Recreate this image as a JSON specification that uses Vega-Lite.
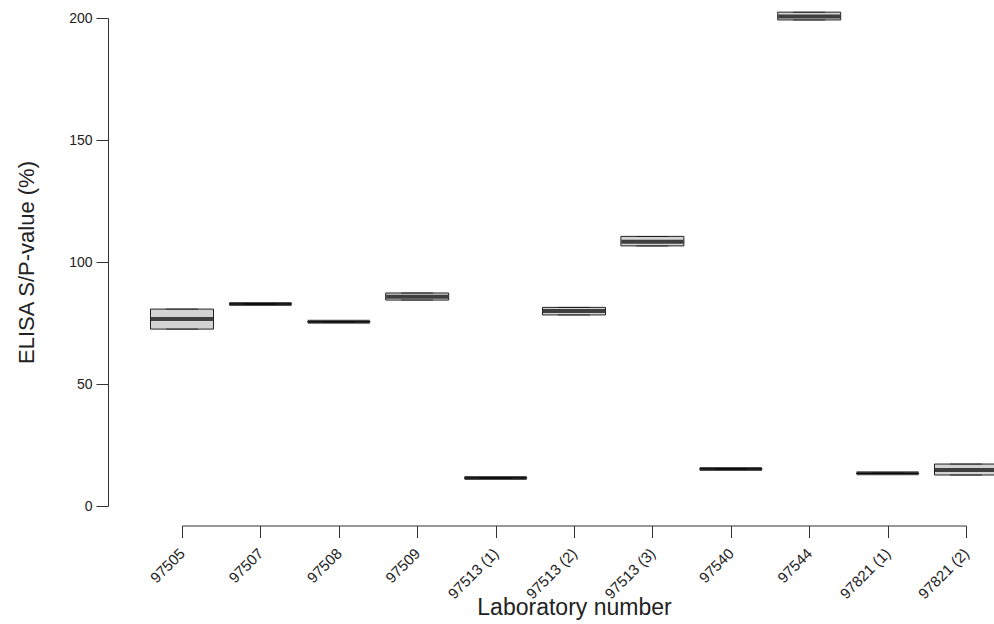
{
  "$schema": "https://vega.github.io/schema/vega-lite/v6.json",
  "width": 784,
  "height": 488,
  "autosize": {"type": "none"},
  "padding": {"left": 182, "top": 18, "right": 28, "bottom": 118},
  "background": "white",
  "config": {
    "view": {"stroke": null},
    "font": "Liberation Sans",
    "axis": {
      "grid": false,
      "domainColor": "#333333",
      "tickColor": "#333333",
      "labelColor": "#222222",
      "titleColor": "#222222",
      "titleFontWeight": "normal",
      "tickSize": 12
    },
    "axisY": {
      "offset": 74,
      "labelFontSize": 14,
      "labelPadding": 4,
      "titleFontSize": 22,
      "titlePadding": 30
    },
    "axisX": {
      "offset": 19.5,
      "labelFontSize": 15,
      "labelAngle": -45,
      "labelPadding": 8,
      "labelOffset": -5,
      "titleFontSize": 23,
      "titleY": 82,
      "titleBaseline": "middle"
    }
  },
  "data": {
    "values": [
      {"lab": "97505", "min": 72.5, "q1": 72.5, "median": 76.6, "q3": 80.7, "max": 80.7},
      {"lab": "97507", "min": 82.8, "q1": 82.8, "median": 82.8, "q3": 82.8, "max": 82.8},
      {"lab": "97508", "min": 75.5, "q1": 75.5, "median": 75.5, "q3": 75.5, "max": 75.5},
      {"lab": "97509", "min": 84.4, "q1": 84.4, "median": 85.8, "q3": 87.3, "max": 87.3},
      {"lab": "97513 (1)", "min": 11.5, "q1": 11.5, "median": 11.5, "q3": 11.5, "max": 11.5},
      {"lab": "97513 (2)", "min": 78.3, "q1": 78.3, "median": 79.9, "q3": 81.4, "max": 81.4},
      {"lab": "97513 (3)", "min": 106.6, "q1": 106.6, "median": 108.3, "q3": 110.5, "max": 110.5},
      {"lab": "97540", "min": 15.2, "q1": 15.2, "median": 15.2, "q3": 15.2, "max": 15.2},
      {"lab": "97544", "min": 199.2, "q1": 199.2, "median": 200.6, "q3": 202.4, "max": 202.4},
      {"lab": "97821 (1)", "min": 13.4, "q1": 13.4, "median": 13.4, "q3": 13.4, "max": 13.4},
      {"lab": "97821 (2)", "min": 12.7, "q1": 12.7, "median": 14.8, "q3": 17.2, "max": 17.2}
    ]
  },
  "encoding": {
    "x": {
      "field": "lab",
      "type": "nominal",
      "sort": null,
      "scale": {"type": "point", "padding": 0},
      "title": "Laboratory number"
    }
  },
  "layer": [
    {
      "mark": {"type": "bar", "width": 63, "fill": "#d3d3d3", "stroke": "#222222", "strokeWidth": 1},
      "encoding": {
        "y": {"field": "q1", "type": "quantitative", "scale": {"domain": [0, 200], "nice": false, "zero": false}, "title": "ELISA S/P-value (%)", "axis": {"values": [0, 50, 100, 150, 200]}},
        "y2": {"field": "q3"}
      }
    },
    {
      "mark": {"type": "tick", "color": "#111111", "size": 32, "thickness": 1},
      "encoding": {
        "y": {"field": "min", "type": "quantitative", "title": "ELISA S/P-value (%)", "axis": {"values": [0, 50, 100, 150, 200]}}
      }
    },
    {
      "mark": {"type": "tick", "color": "#111111", "size": 32, "thickness": 1},
      "encoding": {
        "y": {"field": "max", "type": "quantitative", "title": "ELISA S/P-value (%)", "axis": {"values": [0, 50, 100, 150, 200]}}
      }
    },
    {
      "mark": {"type": "tick", "color": "#000000", "size": 62, "thickness": 4},
      "encoding": {
        "y": {"field": "median", "type": "quantitative", "title": "ELISA S/P-value (%)", "axis": {"values": [0, 50, 100, 150, 200]}}
      }
    }
  ]
}
